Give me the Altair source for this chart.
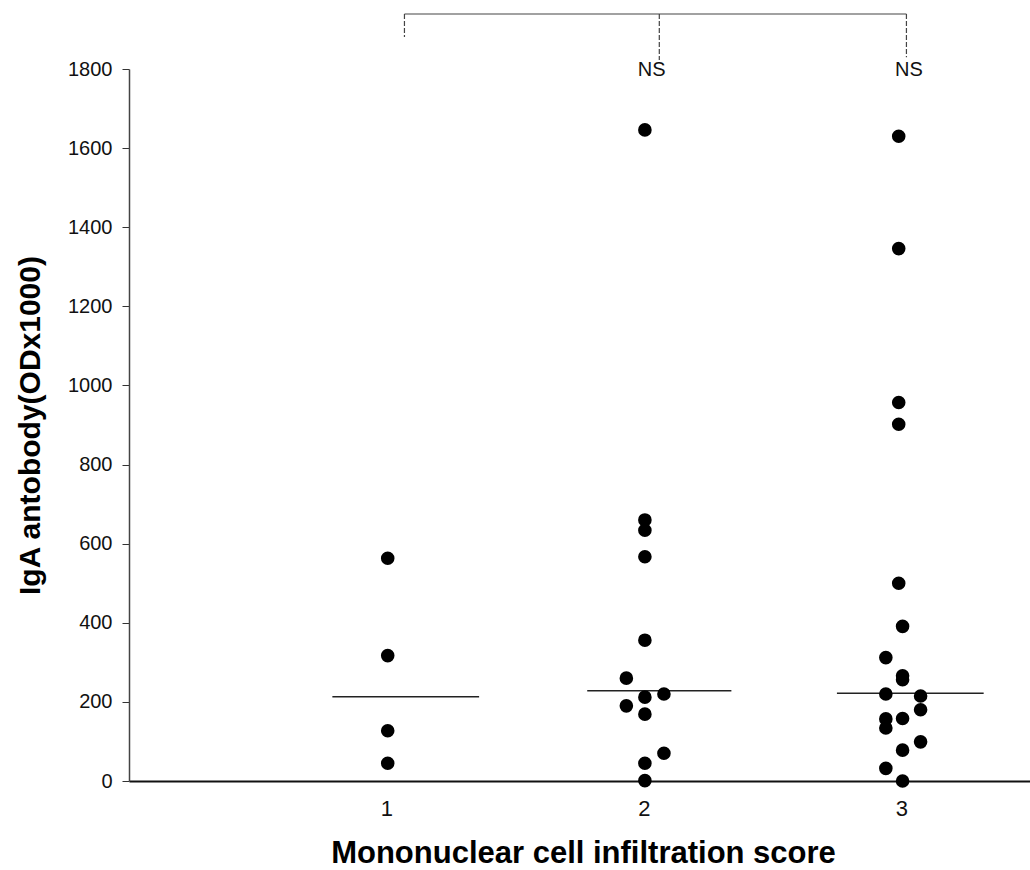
import altair as alt
import pandas as pd

# ---- data ----
score_ticks = [1, 2, 3]
y_ticks = [0, 200, 400, 600, 800, 1000, 1200, 1400, 1600, 1800]

# individual points: position on the score axis (with the plot's horizontal spread) and value
g1_x = [1.005, 1.005, 1.005, 1.005]
g1_y = [563, 317, 127, 45]

g2_x = [2.004, 2.004, 2.004, 2.004, 2.004, 1.932, 2.078, 2.004, 1.932, 2.004, 2.078, 2.004, 2.004]
g2_y = [1646, 660, 634, 567, 356, 260, 220, 212, 190, 169, 70, 45, 1]

g3_x = [2.99, 2.99, 2.99, 2.99, 2.99, 3.005, 2.94, 3.005, 3.005, 2.94, 3.075, 3.075,
        2.94, 2.94, 3.005, 3.075, 3.005, 2.94, 3.005]
g3_y = [1630, 1346, 957, 902, 500, 391, 312, 266, 256, 220, 215, 180,
        157, 134, 158, 99, 78, 32, 0]

# median lines
med_score = [1, 2, 3]
med_value = [213, 228, 222]
med_start = [0.79, 1.78, 2.75]
med_end = [1.36, 2.34, 3.32]

# significance bracket
br_left = [1.07]
br_right = [3.02]
br_level = [1939]
drop_x = [1.07, 2.06, 3.02]
drop_end = [1881, 1823, 1830]
ns_x = [2.03, 3.03]
ns_y = [1797, 1797]
ns_text = ["NS", "NS"]

pts = pd.DataFrame({"x": g1_x + g2_x + g3_x, "y": g1_y + g2_y + g3_y})
med = pd.DataFrame({"score": med_score, "v": med_value, "x1": med_start, "x2": med_end})
br = pd.DataFrame({"x1": br_left, "x2": br_right, "y": br_level})
drops = pd.DataFrame({"x": drop_x, "y1": br_level * 3, "y2": drop_end})
ns = pd.DataFrame({"x": ns_x, "y": ns_y, "t": ns_text})

FONT = "Liberation Sans"

xscale = alt.Scale(domain=[0, 3.5], nice=False, zero=False)
yscale = alt.Scale(domain=[0, 1800], nice=False)

xaxis = alt.Axis(values=score_ticks, format="d", ticks=False, grid=False,
                 labelFontSize=22, labelPadding=17, labelColor="#111", labelFont=FONT,
                 domainColor="#111", domainWidth=2,
                 title="Mononuclear cell infiltration score", titleFont=FONT,
                 titleFontSize=31, titleFontWeight="bold", titleColor="#000",
                 titleX=454, titleY=72, titleBaseline="middle", titleAlign="center")
yaxis = alt.Axis(values=y_ticks, format="d", tickSize=7, tickColor="#333", tickWidth=1,
                 grid=False, labelFontSize=20, labelPadding=10, labelColor="#111",
                 labelFont=FONT, domainColor="#444", domainWidth=1.5,
                 title="IgA antobody(ODx1000)", titleFont=FONT, titleFontSize=30,
                 titleFontWeight="bold", titleColor="#000", titleAngle=270,
                 titleX=-99, titleY=356, titleBaseline="middle", titleAlign="center")

points = alt.Chart(pts).mark_circle(size=185, color="black", opacity=1).encode(
    x=alt.X("x:Q", scale=xscale, axis=xaxis),
    y=alt.Y("y:Q", scale=yscale, axis=yaxis),
)

medians = alt.Chart(med).mark_rule(color="#222", strokeWidth=1.5).encode(
    x=alt.X("x1:Q", scale=xscale), x2="x2:Q", y=alt.Y("v:Q", scale=yscale)
)

bracket = alt.Chart(br).mark_rule(color="#444", strokeWidth=1.2).encode(
    x=alt.X("x1:Q", scale=xscale), x2="x2:Q", y=alt.Y("y:Q", scale=yscale)
)

drop_lines = alt.Chart(drops).mark_rule(color="#444", strokeWidth=1.2, strokeDash=[5, 2]).encode(
    x=alt.X("x:Q", scale=xscale), y=alt.Y("y1:Q", scale=yscale), y2="y2:Q"
)

ns_labels = alt.Chart(ns).mark_text(fontSize=20, font=FONT, color="#111", baseline="middle").encode(
    x=alt.X("x:Q", scale=xscale), y=alt.Y("y:Q", scale=yscale), text="t:N"
)

chart = alt.layer(medians, points, bracket, drop_lines, ns_labels).properties(
    width=901, height=712,
    padding={"left": 129, "top": 69, "right": 0, "bottom": 89},
    autosize=alt.AutoSizeParams(type="none"),
    background="white",
).configure_view(stroke=None)

chart.save("out.html", embed_options={"renderer": "svg", "actions": False})
